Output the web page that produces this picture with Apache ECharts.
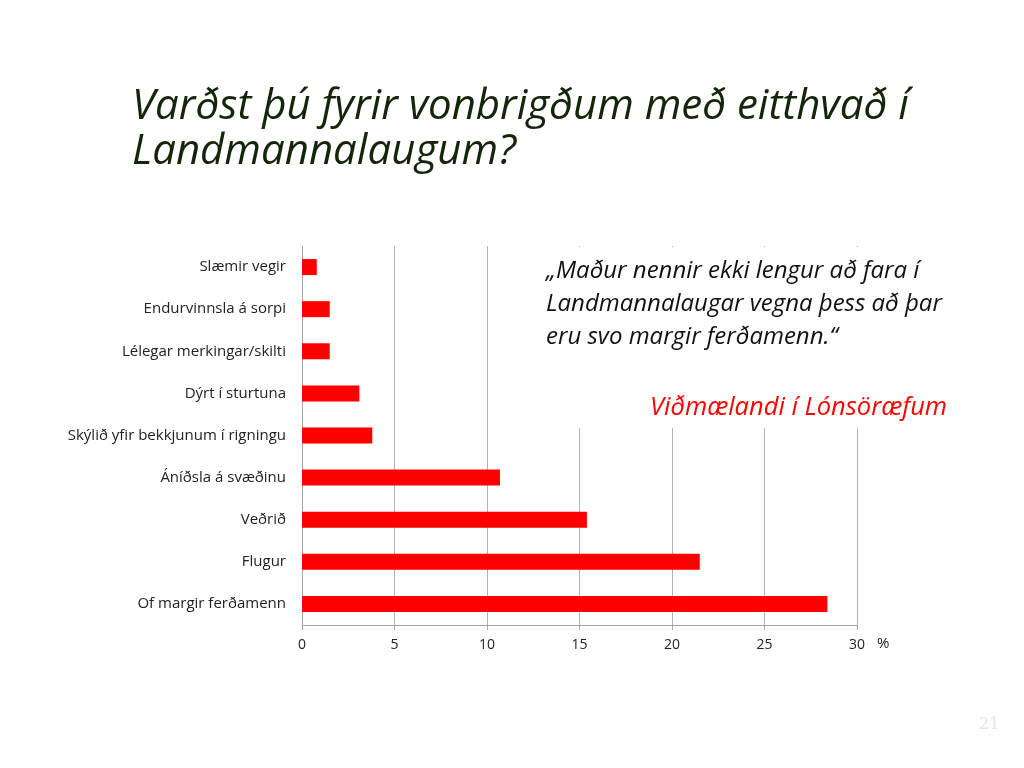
<!DOCTYPE html>
<html><head><meta charset="utf-8">
<script src="https://cdn.jsdelivr.net/npm/echarts@6/dist/echarts.min.js"></script>
<style>html,body{margin:0;padding:0;background:#fff}#c{width:1024px;height:768px}</style>
</head><body><div id="c"></div>
<script>
var categories = ['Of margir ferðamenn','Flugur','Veðrið','Áníðsla á svæðinu','Skýlið yfir bekkjunum í rigningu','Dýrt í sturtuna','Lélegar merkingar/skilti','Endurvinnsla á sorpi','Slæmir vegir'];
var values = [28.4, 21.5, 15.4, 10.7, 3.8, 3.1, 1.5, 1.5, 0.8];
var xTicks = [0,5,10,15,20,25,30];
var chart = echarts.init(document.getElementById('c'));
chart.setOption({
  animation:false,
  backgroundColor:'#fff',
  grid:{left:302,right:167,top:246,bottom:143,containLabel:false},
  xAxis:{type:'value',min:0,max:30,interval:5,
    axisLine:{show:true,lineStyle:{color:'#a6a6a6'}},
    axisTick:{show:true,length:5,lineStyle:{color:'#a6a6a6'}},
    splitLine:{show:true,lineStyle:{color:'#b3b3b3'}},
    axisLabel:{color:'#222',fontSize:14,fontFamily:'Open Sans',margin:13,formatter:function(v){return xTicks.indexOf(v)>=0?String(v):'';}}
  },
  yAxis:{type:'category',data:categories,
    axisLine:{show:true,lineStyle:{color:'#a6a6a6'}},
    axisTick:{show:false},
    axisLabel:{color:'#222',fontSize:15,fontFamily:'Open Sans',margin:16}
  },
  series:[{type:'bar',data:values,barWidth:'38%',itemStyle:{color:'#ff0000'},z:3}],
  graphic:[
    {type:'text',left:132,top:85,style:{text:'Varðst þú fyrir vonbrigðum með eitthvað í\nLandmannalaugum?',fill:'#14260a',font:'italic 42px "Open Sans"',lineHeight:45}},
    {type:'rect',shape:{x:532,y:247,width:338,height:181},style:{fill:'#fff'},z:10},
    {type:'text',left:546,top:255,z:11,style:{text:'„Maður nennir ekki lengur að fara í\nLandmannalaugar vegna þess að þar\neru svo margir ferðamenn.“',fill:'#111',font:'italic 24px "Open Sans"',lineHeight:33}},
    {type:'text',left:650,top:395,z:11,style:{text:'Viðmælandi í Lónsöræfum',fill:'#ff0000',font:'italic 25.5px "Open Sans"'}},
    {type:'text',left:877,top:636,style:{text:'%',fill:'#222',font:'15px "Open Sans"'}},
    {type:'text',left:979,top:717,style:{text:'21',fill:'#d8f0d8',font:'16px "DejaVu Serif"'}}
  ]
});
</script></body></html>
